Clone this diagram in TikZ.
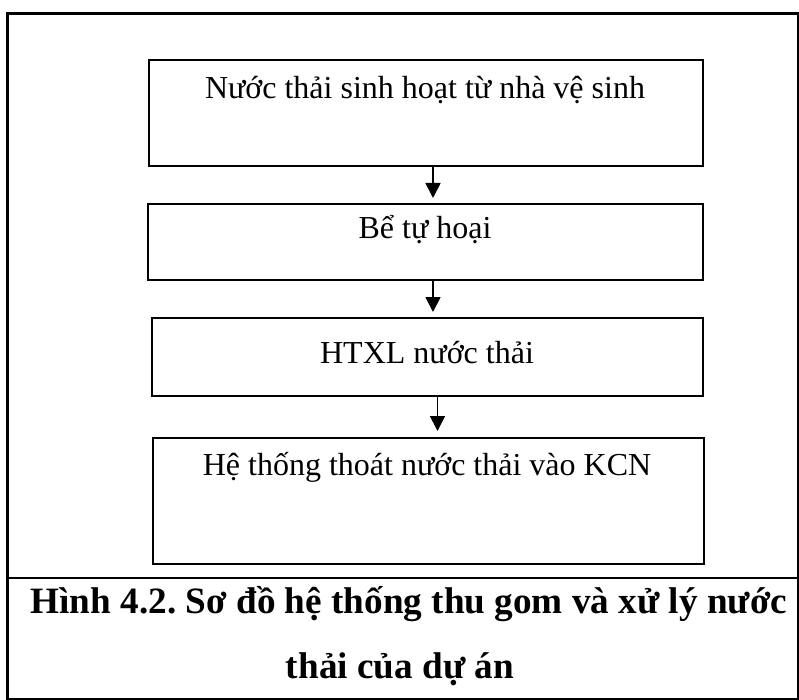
\documentclass[tikz,border=0pt]{standalone}
\usepackage{fontspec}
\setmainfont{Liberation Serif}
\usetikzlibrary{arrows.meta}
\frenchspacing
\begin{document}
\begin{tikzpicture}[x=1pt,y=-1pt,
  stepbox/.style={draw, line width=1.8pt, inner sep=0pt, anchor=north west},
  boxtext/.style={font=\fontsize{32}{38}\selectfont, anchor=base, inner sep=0pt},
  flow/.style={line width=1.8pt, -{Triangle[width=15pt,length=15pt]}},
  captext/.style={font=\bfseries\fontsize{37.2}{44}\selectfont, anchor=base, inner sep=0pt},
  frameline/.style={line width=2.4pt}]
\useasboundingbox (0,0) rectangle (799,700);

% outer frame and caption separator
\draw[frameline] (7.5,13.5) rectangle (798.4,699.2);
\coordinate (sepL) at (7.5,578);
\coordinate (sepR) at (798.4,578);
\draw[frameline] (sepL) -- (sepR);

% process boxes
\node[stepbox, minimum width=554pt, minimum height=106pt] (b1) at (148,59) {};
\node[stepbox, minimum width=555pt, minimum height=76pt] (b2) at (147,203) {};
\node[stepbox, minimum width=551pt, minimum height=78pt] (b3) at (151,317) {};
\node[stepbox, minimum width=551pt, minimum height=126pt] (b4) at (152,437) {};

% box labels
\node[boxtext] (t1) at (425,99) {Nước thải sinh hoạt từ nhà vệ sinh};
\node[boxtext] (t2) at (425,239) {Bể tự hoại};
\node[boxtext] (t3) at (427,363) {HTXL nước thải};
\node[boxtext] (t4) at (427,475) {Hệ thống thoát nước thải vào KCN};

% flow arrows
\coordinate (x1) at (433,0);
\coordinate (x2) at (433,0);
\coordinate (x3) at (437.5,0);
\draw[flow] (b1.south -| x1) -- ([yshift=5pt]b2.north -| x1);
\draw[flow] (b2.south -| x2) -- ([yshift=5pt]b3.north -| x2);
\draw[flow] (b3.south -| x3) -- ([yshift=6pt]b4.north -| x3);

% caption
\node[captext] (cap1) at (409,613) {Hình 4.2. Sơ đồ hệ thống thu gom và xử lý nước};
\node[captext] (cap2) at (400,678) {thải của dự án};
\end{tikzpicture}
\end{document}
